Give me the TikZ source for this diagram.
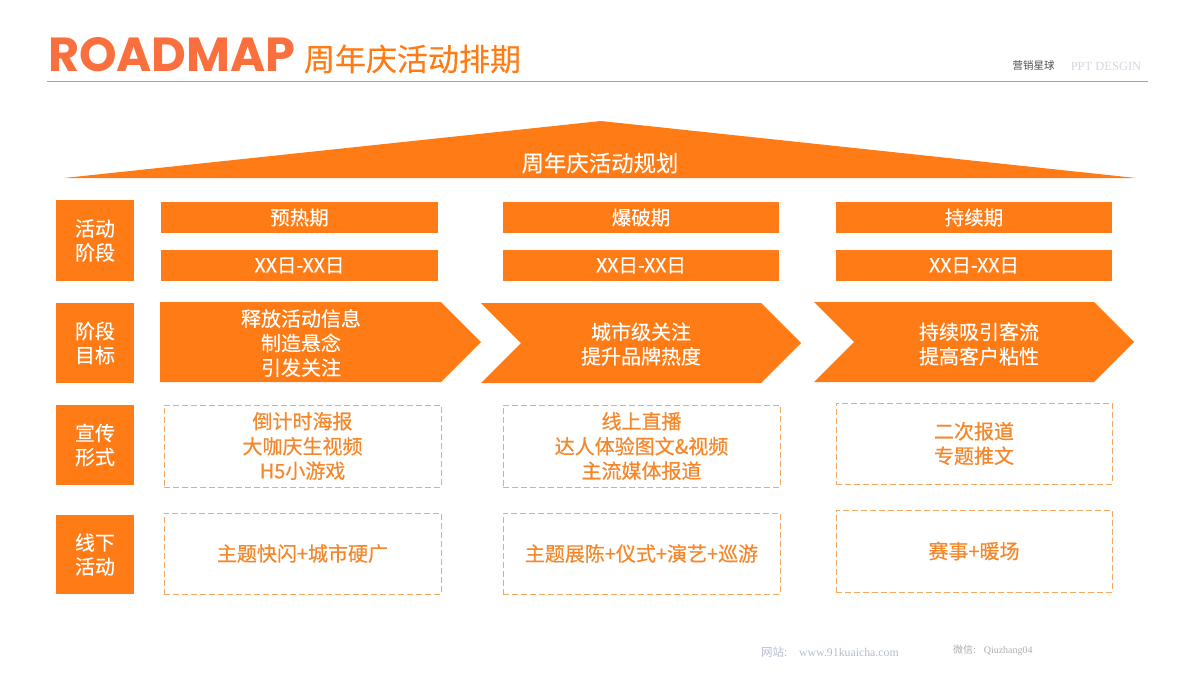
\documentclass[tikz,border=0pt]{standalone}
\usepackage{fontspec}
\setmainfont{Noto Sans CJK SC}[FakeBold=0.25]
\newfontfamily\boldcjk{Noto Sans CJK SC}[FakeBold=0.6]
\newfontfamily\plaincjk{Noto Sans CJK SC}
\newfontfamily\latinbold{Poppins}[UprightFont=* Bold]
\newfontfamily\serifl{Liberation Serif}
\definecolor{org}{HTML}{FF7B15}
\definecolor{dashc}{HTML}{F4A860}
\definecolor{dtext}{HTML}{F5872B}
\definecolor{titleorg}{HTML}{F96F3D}
\definecolor{rulec}{HTML}{98A2B0}
\definecolor{footc}{HTML}{B4BCCC}
\tikzset{
  x=1pt,y=-1pt,
  every node/.style={inner sep=0pt,outer sep=0pt,align=center},
  lab/.style={fill=org,text=white,minimum width=78pt,font=\fontsize{20}{24}\selectfont},
  bar/.style={fill=org,text=white,minimum height=31pt,font=\fontsize{19.5}{22}\selectfont},
  dbox/.style={draw=dashc,line width=1pt,dash pattern=on 6pt off 3pt,text=dtext,font=\fontsize{20}{24.5}\boldcjk},
  chev/.style={fill=org},
  ctext/.style={text=white,font=\fontsize{20}{24.5}\selectfont},
}
\begin{document}
\begin{tikzpicture}
\useasboundingbox (0,0) rectangle (1200,675);
% header
\node[anchor=west,text=titleorg,font=\fontsize{47.8}{48}\latinbold] (brand) at (48,55) {ROADMAP};
\node[anchor=west,text=org,font=\fontsize{31}{31}\selectfont] (title) at (304,59) {周年庆活动排期};
\coordinate (ruleL) at (47,81.5);
\coordinate (ruleR) at (1148,81.5);
\draw[rulec,line width=1.2pt] (ruleL) -- (ruleR);
\node[text=black!70,font=\fontsize{10.5}{11}\plaincjk] (org) at (1033.5,66) {营销星球};
\node[text=footc!60,font=\fontsize{12.5}{13}\serifl] (ppt) at (1106,66) {PPT DESGIN};
% roof
\fill[org] (64,178) -- (601,121) -- (1136,178) -- cycle;
\node[text=white,font=\fontsize{22.4}{26}\selectfont] (roof) at (600,163) {周年庆活动规划};
% left labels
\node[lab,minimum height=81pt] (l1) at (95,240.5) {活动\\阶段};
\node[lab,minimum height=80pt] (l2) at (95,343) {阶段\\目标};
\node[lab,minimum height=80pt] (l3) at (95,445) {宣传\\形式};
\node[lab,minimum height=79pt] (l4) at (95,554.5) {线下\\活动};
% bars
\node[bar,minimum width=277pt] (a1) at (299.5,217.5) {预热期};
\node[bar,minimum width=277pt] (a2) at (299.5,265.5) {XX日-XX日};
\node[bar,minimum width=276pt] (b1) at (641,217.5) {爆破期};
\node[bar,minimum width=276pt] (b2) at (641,265.5) {XX日-XX日};
\node[bar,minimum width=276pt] (c1) at (974,217.5) {持续期};
\node[bar,minimum width=276pt] (c2) at (974,265.5) {XX日-XX日};
% chevrons
\fill[chev] (160,302) -- (441,302) -- (481,342) -- (441,382) -- (160,382) -- cycle;
\fill[chev] (481,303) -- (761,303) -- (801,343) -- (761,383) -- (481,383) -- (521,343) -- cycle;
\fill[chev] (814,302) -- (1094,302) -- (1134,342) -- (1094,382) -- (814,382) -- (854,342) -- cycle;
\node[ctext] (g1) at (301,343) {释放活动信息\\制造悬念\\引发关注};
\node[ctext] (g2) at (641,344) {城市级关注\\提升品牌热度};
\node[ctext] (g3) at (979,344) {持续吸引客流\\提高客户粘性};
% dashed boxes
\node[dbox,minimum width=277pt,minimum height=82pt] (p1) at (302.5,446) {\raisebox{0.5pt}{倒计时海报}\\大咖庆生视频\\H5小游戏};
\node[dbox,minimum width=277pt,minimum height=82pt] (p2) at (641.5,446) {\raisebox{0.5pt}{线上直播}\\达人体验图文\&视频\\主流媒体报道};
\node[dbox,minimum width=276pt,minimum height=81pt] (p3) at (974,443.5) {二次报道\\专题推文};
\node[dbox,minimum width=277pt,minimum height=81pt] (o1) at (302.5,553.5) {主题快闪+城市硬广};
\node[dbox,minimum width=277pt,minimum height=81pt] (o2) at (641.5,553.5) {主题展陈+仪式+演艺+巡游};
\node[dbox,minimum width=276pt,minimum height=82pt] (o3) at (974,551) {赛事+暖场};
% footer
\node[text=footc,anchor=west,font=\fontsize{11.5}{12}\plaincjk] (web) at (761,652.5) {网站:\hspace{12pt}{\serifl\fontsize{11.8}{12}\selectfont www.91kuaicha.com}};
\node[text=black!32,anchor=west,font=\fontsize{10}{11}\plaincjk] (wx) at (953,650.5) {微信:\hspace{8pt}{\serifl Qiuzhang04}};
\end{tikzpicture}
\end{document}
